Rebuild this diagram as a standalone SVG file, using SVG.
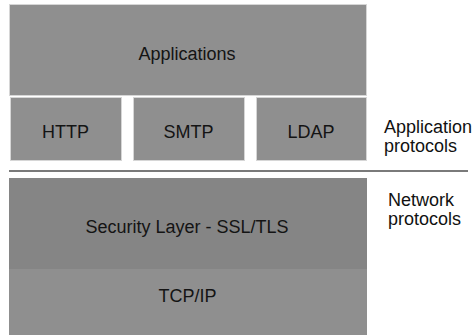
<svg xmlns="http://www.w3.org/2000/svg" width="473" height="335" viewBox="0 0 473 335">
<style>
.box{fill:#8f8f8f;stroke:#d6d6d6;stroke-width:1}
.sec{fill:#858585;stroke:none}
.tcp{fill:#8f8f8f;stroke:none}
.t{font-family:"Liberation Sans",Arial,sans-serif;font-size:18px;fill:#141414;text-anchor:middle}
.lbl{font-family:"Liberation Sans",Arial,sans-serif;font-size:18px;fill:#111}
</style>
<rect width="473" height="335" fill="#ffffff"/>
<g id="applications">
<rect class="box" x="9.5" y="4.5" width="357" height="91"/>
<text class="t" x="187" y="60">Applications</text>
</g>
<g id="http">
<rect class="box" x="10.5" y="97.5" width="111" height="63"/>
<text class="t" x="65.5" y="137.5">HTTP</text>
</g>
<g id="smtp">
<rect class="box" x="133.5" y="97.5" width="111" height="63"/>
<text class="t" x="188.5" y="137.5">SMTP</text>
</g>
<g id="ldap">
<rect class="box" x="256.5" y="97.5" width="110" height="63"/>
<text class="t" x="311" y="137.5">LDAP</text>
</g>
<g id="connectors">
<line x1="9" y1="171" x2="468" y2="171" stroke="#7a7a7a" stroke-width="2"/>
</g>
<g id="security">
<rect class="sec" x="9" y="178" width="358" height="91"/>
<text class="t" x="187" y="233">Security Layer - SSL/TLS</text>
</g>
<g id="tcpip">
<rect class="tcp" x="9" y="269" width="358" height="66"/>
<text class="t" x="187.5" y="301.5">TCP/IP</text>
</g>
<g id="label-app">
<text class="lbl" x="384" y="133">Application</text>
<text class="lbl" x="384" y="152">protocols</text>
</g>
<g id="label-net">
<text class="lbl" x="388" y="205.5">Network</text>
<text class="lbl" x="388" y="224.5">protocols</text>
</g>
</svg>
